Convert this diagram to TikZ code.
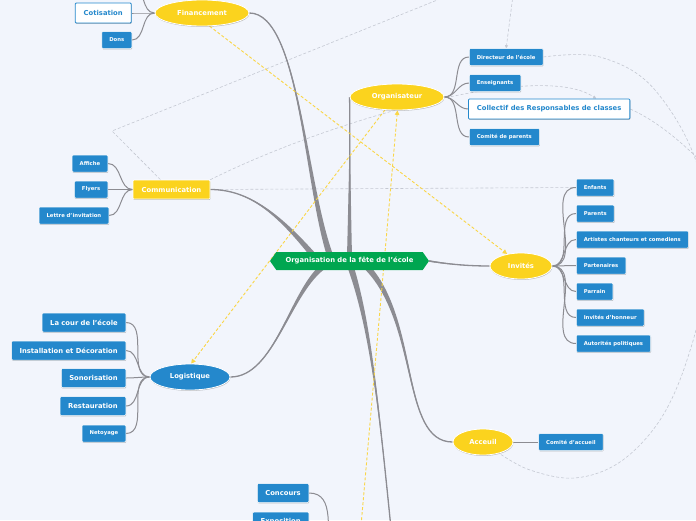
\documentclass[tikz,border=0pt]{standalone}
\usepackage{fontspec}
\setmainfont{DejaVu Sans}
\usetikzlibrary{positioning, arrows.meta, shapes.symbols, shapes.geometric, shadows, calc}
\definecolor{fondbleu}{RGB}{242,245,252}
\definecolor{jaune}{RGB}{251,211,30}
\definecolor{bleu}{RGB}{36,136,204}
\definecolor{vert}{RGB}{0,166,80}
\definecolor{branche}{RGB}{140,140,146}
\definecolor{relgris}{RGB}{196,200,210}
\definecolor{reljaune}{RGB}{250,214,70}
\pgfdeclarelayer{fond}
\pgfsetlayers{fond,main}

% main branch, thick near the centre and thin at the topic
\newcommand{\brancheprincipale}[5]{%
  \fill[branche] ($(#1)+(#5)$) .. controls ($(#2)+0.45*(#5)$) and (#3) .. (#4)
    .. controls (#3) and ($(#2)-0.45*(#5)$) .. ($(#1)-(#5)$) -- cycle;
  \draw[branche, line width=1.3pt] (#1) .. controls (#2) and (#3) .. (#4);}

\begin{document}
\begin{tikzpicture}[x=1pt, y=-1pt,
    ombre/.style={drop shadow={shadow xshift=0.4pt, shadow yshift=-0.9pt,
        opacity=0.35, fill=black!70}},
    centre/.style={signal, signal to=west and east, signal pointer angle=110,
        fill=vert, minimum width=159pt, minimum height=18pt, inner sep=0pt,
        text=white, font=\fontsize{6.8}{8}\selectfont\bfseries},
    sujet/.style={ellipse, fill=jaune, draw=white, line width=0.8pt,
        minimum height=26pt, inner sep=0pt, text=white,
        font=\fontsize{6.8}{8}\selectfont\bfseries, ombre},
    cadre/.style={rectangle, rounded corners=1pt, fill=jaune, draw=white,
        line width=0.6pt, minimum height=19pt, inner sep=0pt, text=white,
        font=\fontsize{6.8}{8}\selectfont\bfseries, ombre},
    feuille/.style={rectangle, rounded corners=1pt, fill=bleu, draw=white,
        line width=0.5pt, minimum height=17pt, inner xsep=7.5pt,
        inner ysep=0pt, text=white,
        font=\fontsize{5.3}{6}\selectfont\bfseries, ombre},
    grande/.style={feuille, minimum height=19pt, inner xsep=8pt,
        font=\fontsize{6.8}{8}\selectfont\bfseries},
    blanc/.style={feuille, fill=white, draw=bleu, line width=0.8pt,
        text=bleu, minimum height=20pt, inner xsep=8.5pt,
        font=\fontsize{6.8}{8}\selectfont\bfseries},
    fil/.style={draw=branche, line width=1pt},
    relgr/.style={draw=relgris, line width=0.6pt, dash pattern=on 3pt off 2pt},
    relja/.style={draw=reljaune, line width=0.9pt, dash pattern=on 3pt off 2pt,
        -{Triangle[length=4.5pt, width=4.5pt]}}
  ]
  \useasboundingbox (0,0) rectangle (696,520);
  \clip (0,0) rectangle (696,520);

  % centre
  \node[centre] (cen) at (349.5,261) {Organisation de la fête de l'école};

  % Financement
  \node[sujet, minimum width=94pt] (fin) at (202,13) {Financement};
  \node[blanc, left=23pt of fin] (cot) {Cotisation};
  \node[feuille, anchor=east] (dons) at (132,40) {Dons};
  \coordinate (finhaut) at (132,-14);

  % Organisateur
  \node[sujet, minimum width=94pt] (org) at (397,97) {Organisateur};
  \node[feuille, anchor=west] (dir) at (469,57) {Directeur de l'école};
  \node[feuille, anchor=west] (ens) at (469,83) {Enseignants};
  \node[blanc, anchor=west] (coll) at (468,109) {Collectif des Responsables de classes};
  \node[feuille, anchor=west] (parco) at (469,137) {Comité de parents};

  % Communication
  \node[cadre, minimum width=77pt] (com) at (171.5,189.5) {Communication};
  \node[feuille, anchor=east] (aff) at (108,163.5) {Affiche};
  \node[feuille, anchor=east] (fly) at (108,189.5) {Flyers};
  \node[feuille, anchor=east] (let) at (109,215.5) {Lettre d'invitation};

  % Invites
  \node[sujet, minimum width=62pt] (inv) at (521,266) {Invités};
  \node[feuille, anchor=west] (enf) at (576,187.5) {Enfants};
  \node[feuille, anchor=west] (par) at (576,213.5) {Parents};
  \node[feuille, anchor=west] (art) at (576,239.5) {Artistes chanteurs et comediens};
  \node[feuille, anchor=west] (part) at (576,265.5) {Partenaires};
  \node[feuille, anchor=west] (parr) at (576,291.5) {Parrain};
  \node[feuille, anchor=west] (hon) at (576,317.5) {Invités d'honneur};
  \node[feuille, anchor=west] (aut) at (576,343.5) {Autorités politiques};

  % Logistique
  \node[sujet, minimum width=80pt, fill=bleu] (log) at (190,377) {Logistique};
  \node[grande, anchor=east] (cour) at (126,322.5) {La cour de l'école};
  \node[grande, anchor=east] (inst) at (126,350.5) {Installation et Décoration};
  \node[grande, anchor=east] (sono) at (126,378) {Sonorisation};
  \node[grande, anchor=east] (resto) at (126,406) {Restauration};
  \node[feuille, anchor=east] (net) at (126,433.5) {Netoyage};

  % Acceuil
  \node[sujet, minimum width=60pt] (acc) at (483,442) {Acceuil};
  \node[feuille, right=25pt of acc] (comacc) {Comité d'accueil};

  % bas de la carte
  \node[grande, anchor=east] (conc) at (309,493) {Concours};
  \node[grande, anchor=east] (expo) at (309,521.5) {Exposition};
  \coordinate (bas) at (393,548);
  \coordinate (basrel) at (358,560);
  \coordinate (concpar) at (330,560);

  % departs des branches
  \coordinate (dfin) at ($(cen)+(-17.5,0)$);
  \coordinate (dorg) at ($(cen)+(0,0)$);
  \coordinate (dcom) at ($(cen)+(-31.5,0)$);
  \coordinate (dlog) at ($(cen)+(-24.5,4)$);
  \coordinate (dbas) at ($(cen)+(0.5,4)$);
  \coordinate (dacc) at ($(cen)+(15.5,4)$);

  \begin{pgfonlayer}{fond}
    \clip (0,0) rectangle (696,520);
    \fill[fondbleu] (0,0) rectangle (696,520);

    % relations
    \draw[relgr, -{Triangle[length=3pt, width=3pt]}] ($(com.north)+(-11,0)$)
      -- (112,131) -- (487,-20) -- (515,-20) -- (dir.north);
    \draw[relgr] (com.east) -- (enf.west);
    \draw[relgr, -{Triangle[length=3pt, width=3pt]}] (com.north east)
      .. controls (330,120) and (540,60) .. ($(coll.north)+(47,0)$);
    \draw[relgr] plot[smooth, tension=0.6] coordinates {(dir.east) (600,57)
      (655,90) (700,175) (702,290) (687,360) (660,420) (620,462) (575,478)
      (530,470) (acc.-35)};
    \draw[relgr] (coll.east) .. controls (665,125) and (690,150) .. (730,190);

    % branches principales
    \brancheprincipale{dfin}{305,190}{300,13}{fin.east}{3,-1.2}
    \brancheprincipale{dorg}{349.5,200}{350,140}{org.west}{2.6,0}
    \brancheprincipale{dcom}{280,215}{250,189.5}{com.east}{2.4,-2}
    \brancheprincipale{dlog}{290,290}{275,377}{log.east}{1.8,2.5}
    \brancheprincipale{dacc}{420,320}{400,442}{acc.west}{2.2,-2.2}
    \brancheprincipale{dbas}{372,330}{380,420}{bas}{3,-1}
    \brancheprincipale{cen.east}{450,264.5}{470,266}{inv.west}{0,0.8}

    % fils
    \draw[fil] (fin.west) to[out=180, in=0] (cot.east);
    \draw[fil] (fin.west) to[out=180, in=0] (dons.east);
    \draw[fil] (fin.west) to[out=180, in=0] (finhaut);
    \foreach \f in {dir, ens, coll, parco}
      \draw[fil] (org.east) to[out=0, in=180] (\f.west);
    \foreach \f in {aff, fly, let}
      \draw[fil] (com.west) to[out=180, in=0] (\f.east);
    \foreach \f in {enf, par, art, part, parr, hon, aut}
      \draw[fil] (inv.east) to[out=0, in=180] (\f.west);
    \foreach \f in {cour, inst, sono, resto, net}
      \draw[fil] (log.west) to[out=180, in=0] (\f.east);
    \draw[fil] (acc.east) -- (comacc.west);
    \draw[fil] (conc.east) to[out=0, in=100] (concpar);
    \draw[fil] (expo.east) to[out=0, in=120] (concpar);

    % relations jaunes
    \draw[relja] (fin.-60) -- (inv.139);
    \draw[relja] (org.-133) -- (log.85);
    \draw[relja] (basrel) -- (org.-88);
  \end{pgfonlayer}
\end{tikzpicture}
\end{document}
